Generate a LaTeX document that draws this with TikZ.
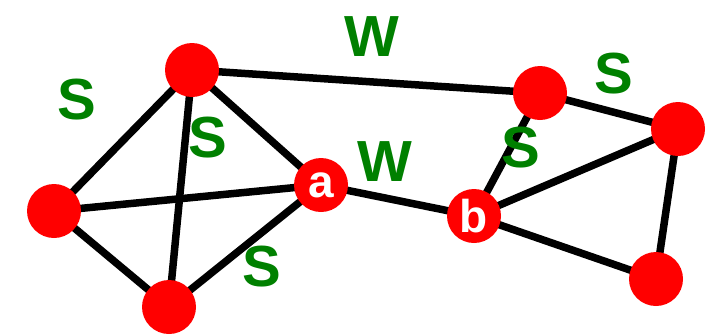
\documentclass[tikz,border=0pt]{standalone}
\usepackage{fontspec}
\setmainfont{Liberation Sans}
\definecolor{lblgreen}{RGB}{0,128,0}
\definecolor{nodered}{RGB}{255,0,0}
\begin{document}
\begin{tikzpicture}[x=1pt,y=-1pt,
  vtx/.style={circle,fill=nodered,minimum size=54pt,inner sep=0pt,text=white,font=\fontsize{46}{46}\selectfont\bfseries},
  edge/.style={line width=7.5pt,black},
  lbl/.style={text=lblgreen,font=\fontsize{58}{58}\selectfont\bfseries,inner sep=0pt}]
\useasboundingbox (0,0) rectangle (723,335);
\coordinate (pA) at (192,70);
\coordinate (pB) at (54,211);
\coordinate (pC) at (169,307);
\coordinate (pa) at (321,185);
\coordinate (pb) at (474,216);
\coordinate (pD) at (540,93);
\coordinate (pE) at (678,129);
\coordinate (pF) at (656,279);
\draw[edge] (pA) -- (pB);
\draw[edge] (pA) -- (pC);
\draw[edge] (pA) -- (pa);
\draw[edge] (pA) -- (pD);
\draw[edge] (pB) -- (pa);
\draw[edge] (pB) -- (pC);
\draw[edge] (pC) -- (pa);
\draw[edge] (pa) -- (pb);
\draw[edge] (pb) -- (pD);
\draw[edge] (pb) -- (pE);
\draw[edge] (pb) -- (pF);
\draw[edge] (pD) -- (pE);
\draw[edge] (pE) -- (pF);
\node[vtx] (A) at (pA) {};
\node[vtx] (B) at (pB) {};
\node[vtx] (C) at (pC) {};
\node[vtx] (a) at (pa) {a};
\node[vtx] (b) at (pb) {b};
\node[vtx] (D) at (pD) {};
\node[vtx] (E) at (pE) {};
\node[vtx] (F) at (pF) {};
\node[lbl] (s1) at (77,100) {S};
\node[lbl] (s2) at (208,138) {S};
\node[lbl] (s3) at (262,267) {S};
\node[lbl] (w1) at (372,37) {W};
\node[lbl] (w2) at (385,162) {W};
\node[lbl] (s4) at (614,74) {S};
\node[lbl] (s5) at (521,148) {S};
\end{tikzpicture}
\end{document}
